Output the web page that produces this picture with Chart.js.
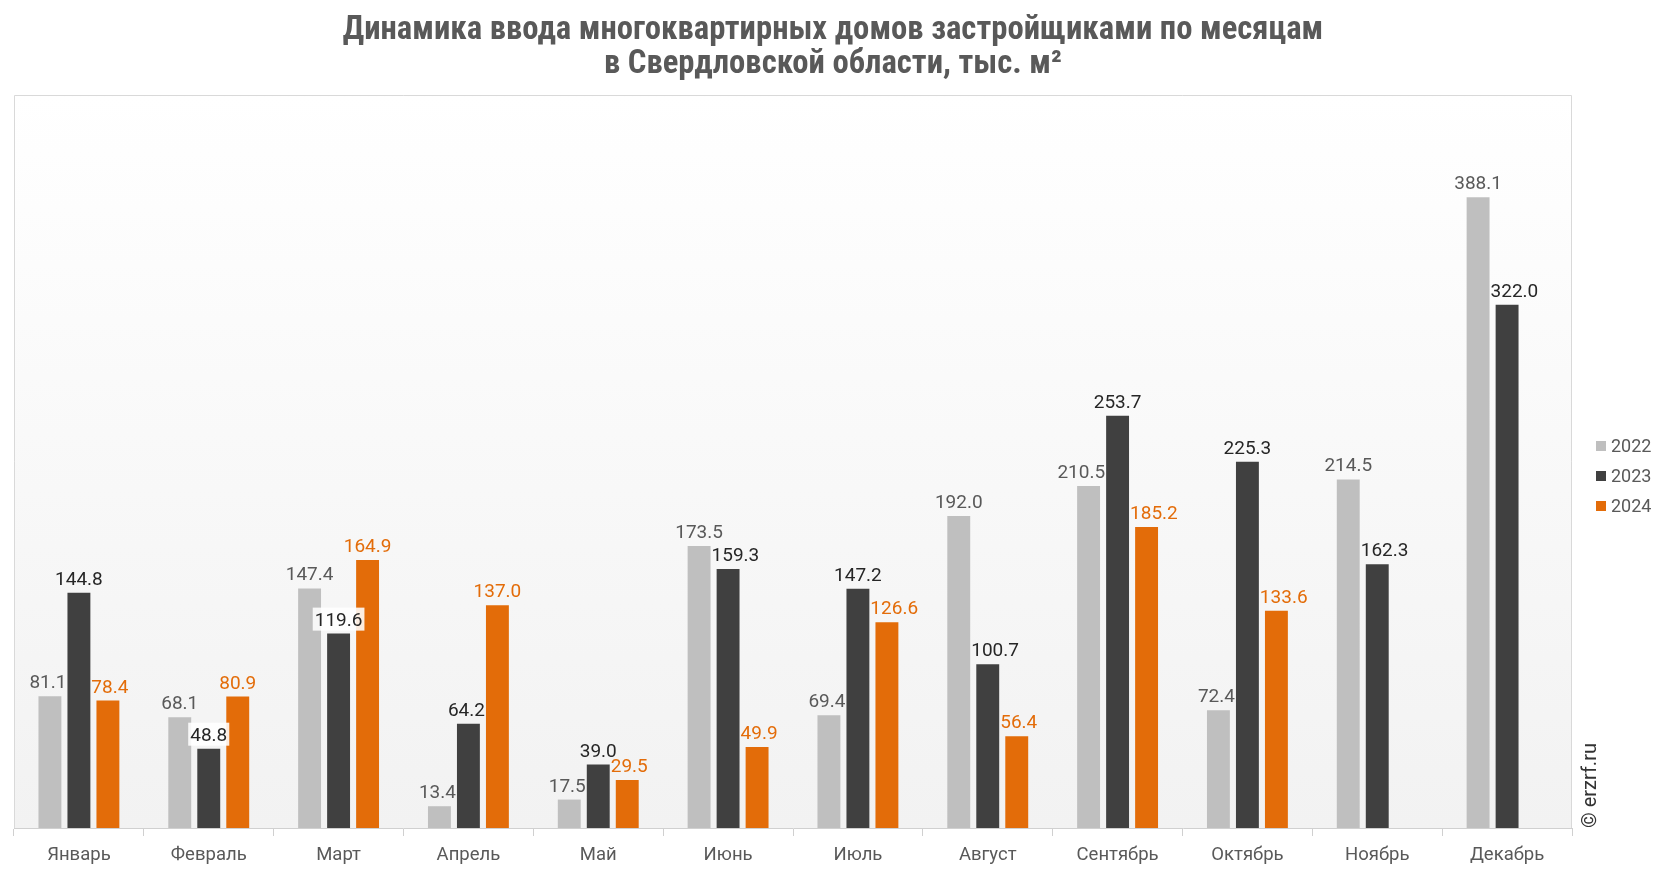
<!DOCTYPE html>
<html lang="ru">
<head>
<meta charset="utf-8">
<title>Динамика ввода многоквартирных домов</title>
<script src="https://cdn.jsdelivr.net/npm/chart.js@4.4.1/dist/chart.umd.min.js"></script>
<style>
  html, body { margin: 0; padding: 0; background: #ffffff; }
  #wrap { width: 1666px; height: 872px; }
</style>
</head>
<body>
<div id="wrap"><canvas id="grafico" width="1666" height="872"></canvas></div>
<script>
const meses = ["Январь", "Февраль", "Март", "Апрель", "Май", "Июнь", "Июль", "Август", "Сентябрь", "Октябрь", "Ноябрь", "Декабрь"];
const anios = ["2022", "2023", "2024"];
const valores2022 = [81.1, 68.1, 147.4, 13.4, 17.5, 173.5, 69.4, 192.0, 210.5, 72.4, 214.5, 388.1];
const valores2023 = [144.8, 48.8, 119.6, 64.2, 39.0, 159.3, 147.2, 100.7, 253.7, 225.3, 162.3, 322.0];
const valores2024 = [78.4, 80.9, 164.9, 137.0, 29.5, 49.9, 126.6, 56.4, 185.2, 133.6, null, null];
const titulo = ["Динамика ввода многоквартирных домов застройщиками по месяцам", "в Свердловской области, тыс. м²"];
const marca = "© erzrf.ru";

const coloresBarras = ["#bfbfbf", "#404040", "#e36c09"];
const coloresTexto = ["#595959", "#262626", "#e36c09"];

// titulo centrado en todo el lienzo
const tituloPlugin = {
  id: "titulo",
  afterDraw(chart) {
    const { ctx, width } = chart;
    ctx.save();
    ctx.font = "bold 32.7px 'Liberation Sans Narrow', 'Roboto Condensed', Roboto";
    ctx.fillStyle = "#595959";
    ctx.textAlign = "center";
    ctx.textBaseline = "middle";
    titulo.forEach((linea, k) => ctx.fillText(linea, width / 2, 30.5 + k * 34));
    ctx.restore();
  }
};

// fondo degradado y marco del área del gráfico
const fondoPlugin = {
  id: "fondo",
  beforeDatasetsDraw(chart) {
    const { ctx, chartArea: a } = chart;
    ctx.save();
    const g = ctx.createLinearGradient(0, a.top, 0, a.bottom);
    g.addColorStop(0, "#ffffff");
    g.addColorStop(1, "#f2f2f2");
    ctx.fillStyle = g;
    ctx.fillRect(a.left, a.top, a.right - a.left, a.bottom - a.top);
    ctx.strokeStyle = "#d9d9d9";
    ctx.lineWidth = 1;
    ctx.beginPath();
    ctx.moveTo(a.left + 0.5, a.bottom);
    ctx.lineTo(a.left + 0.5, a.top + 0.5);
    ctx.lineTo(a.right - 0.5, a.top + 0.5);
    ctx.lineTo(a.right - 0.5, a.bottom);
    ctx.stroke();
    ctx.restore();
  }
};

// etiquetas de valores: se apartan de las barras vecinas, o llevan fondo blanco
const etiquetasPlugin = {
  id: "etiquetas",
  afterDatasetsDraw(chart) {
    const { ctx } = chart;
    const rects = [];
    chart.data.datasets.forEach((ds, i) => {
      chart.getDatasetMeta(i).data.forEach((bar, j) => {
        if (ds.data[j] == null) return;
        rects.push({ i, j, x: bar.x, l: bar.x - bar.width / 2, r: bar.x + bar.width / 2, t: bar.y, b: bar.base });
      });
    });
    const gap = 2;
    ctx.save();
    ctx.font = "19px Roboto";
    ctx.textAlign = "center";
    ctx.textBaseline = "alphabetic";
    chart.data.datasets.forEach((ds, i) => {
      chart.getDatasetMeta(i).data.forEach((bar, j) => {
        const v = ds.data[j];
        if (v == null) return;
        const txt = v.toFixed(1);
        const w = ctx.measureText(txt).width - 2;
        const y = bar.y - 8;
        const box = { l: bar.x - w / 2, r: bar.x + w / 2, t: y - 15, b: y + 2 };
        let dx = 0, izq = false, der = false;
        rects.forEach(q => {
          if (q.i === i && q.j === j) return;
          if (q.t > box.b || q.b < box.t) return;
          if (q.x < bar.x && q.r + gap > box.l) { izq = true; dx = Math.max(dx, q.r + gap - box.l); }
          if (q.x > bar.x && q.l - gap < box.r) { der = true; dx = Math.min(dx, q.l - gap - box.r); }
        });
        let x = bar.x;
        if (izq && der) {
          ctx.fillStyle = "rgba(255,255,255,0.88)";
          ctx.fillRect(bar.x - w / 2 - 3, y - 18, w + 6, 23);
        } else {
          x += dx;
        }
        ctx.fillStyle = coloresTexto[i];
        ctx.fillText(txt, x, y);
      });
    });
    ctx.restore();
  }
};

// leyenda a la derecha y marca de agua
const leyendaPlugin = {
  id: "leyenda",
  afterDraw(chart) {
    const { ctx } = chart;
    ctx.save();
    ctx.font = "18px Roboto";
    ctx.textBaseline = "middle";
    ctx.textAlign = "left";
    chart.data.datasets.forEach((ds, i) => {
      const y = 446 + i * 30;
      ctx.fillStyle = ds.backgroundColor;
      ctx.fillRect(1596, y - 5, 10, 10);
      ctx.fillStyle = "#595959";
      ctx.fillText(ds.label, 1611, y + 1);
    });
    ctx.translate(1591, chart.chartArea.bottom);
    ctx.rotate(-Math.PI / 2);
    ctx.font = "20px Roboto";
    ctx.fillStyle = "#333333";
    ctx.textAlign = "left";
    ctx.fillText(marca, 0, 0);
    ctx.restore();
  }
};

const series = [valores2022, valores2023, valores2024];

new Chart(document.getElementById("grafico").getContext("2d"), {
  type: "bar",
  data: {
    labels: meses,
    datasets: series.map((d, i) => ({
      label: anios[i],
      data: d,
      backgroundColor: coloresBarras[i],
      borderWidth: 0,
      categoryPercentage: 0.67,
      barPercentage: 0.79
    }))
  },
  options: {
    responsive: false,
    animation: false,
    layout: { padding: { left: 14, right: 94, top: 95, bottom: 0 } },
    plugins: {
      legend: { display: false },
      tooltip: { enabled: false },
      title: { display: false }
    },
    scales: {
      x: {
        grid: { offset: true, drawOnChartArea: false, tickLength: 8, color: "#d0d0d0" },
        border: { color: "#d0d0d0" },
        ticks: { color: "#595959", font: { family: "Roboto", size: 18.5 }, padding: 8 },
        afterFit(s) { s.height = 44; }
      },
      y: { display: false, min: 0, max: 451 }
    }
  },
  plugins: [fondoPlugin, etiquetasPlugin, leyendaPlugin, tituloPlugin]
});
</script>
</body>
</html>
